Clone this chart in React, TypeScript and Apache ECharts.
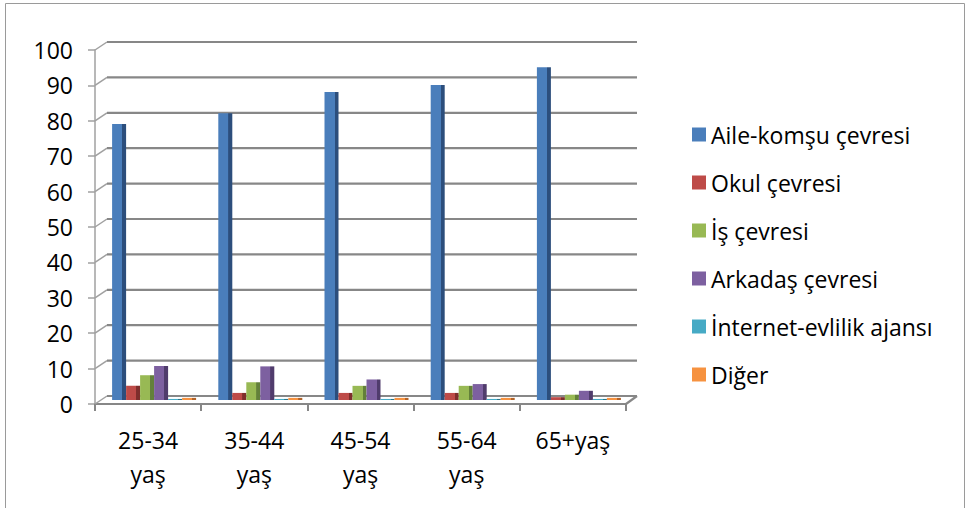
import React, { useEffect, useRef } from "react";
import * as echarts from "echarts";

// Age groups on the category axis
const ageGroups = ["25-34\nyaş", "35-44\nyaş", "45-54\nyaş", "55-64\nyaş", "65+yaş"];

// Share (%) of each way of meeting a spouse, per age group
const seriesNames = [
  "Aile-komşu çevresi",
  "Okul çevresi",
  "İş çevresi",
  "Arkadaş çevresi",
  "İnternet-evlilik ajansı",
  "Diğer",
];
const aileKomsu = [78, 81, 87, 89, 94];
const okul = [4, 2, 2, 2, 0.8];
const is = [7, 5, 4, 4, 1.5];
const arkadas = [9.6, 9.5, 5.8, 4.5, 2.6];
const internet = [0.3, 0.3, 0.3, 0.3, 0.3];
const diger = [0.6, 0.6, 0.6, 0.6, 0.6];

// Value-axis ticks
const yTicks = [0, 10, 20, 30, 40, 50, 60, 70, 80, 90, 100];

const baseColors = ["#4A7EBB", "#BE4B48", "#98B954", "#7D60A0", "#46AAC5", "#F69240"];
const sideColors = ["#2C4E7C", "#7E2E2C", "#63803A", "#503C6C", "#2B7488", "#B2632A"];

// depth offset of the back wall (pseudo 3D)
const DEPTH_X = 12;
const DEPTH_Y = 8;
const GRID_COLOR = "#878787";
const FONT = "'Open Sans', sans-serif";

export default function App() {
  const ref = useRef<HTMLDivElement>(null);

  useEffect(() => {
    if (!ref.current) return;
    const chart = echarts.init(ref.current, null, { renderer: "svg" });

    const values = [aileKomsu, okul, is, arkadas, internet, diger];

    const barSeries = values.map((data, i) => ({
      type: "bar",
      name: seriesNames[i],
      xAxisIndex: 1,
      yAxisIndex: 1,
      data,
      barWidth: 14,
      barGap: "0%",
      z: 3,
      itemStyle: {
        color: new echarts.graphic.LinearGradient(0, 0, 1, 0, [
          { offset: 0, color: baseColors[i] },
          { offset: 0.72, color: baseColors[i] },
          { offset: 0.73, color: sideColors[i] },
          { offset: 1, color: sideColors[i] },
        ]),
      },
    }));

    const option = {
      animation: false,
      backgroundColor: "#ffffff",
      textStyle: { fontFamily: FONT },
      graphic: [
        {
          type: "rect",
          shape: { x: 5.5, y: 3.5, width: 959, height: 510 },
          style: { fill: "none", stroke: "#9A9A9A", lineWidth: 1 },
          silent: true,
        },
      ],
      legend: {
        orient: "vertical",
        left: 692,
        top: 123,
        itemWidth: 14,
        itemHeight: 14,
        itemGap: 25,
        padding: 0,
        icon: "rect",
        textStyle: { fontSize: 23, color: "#000", fontFamily: FONT },
        data: seriesNames.map((name, i) => ({
          name,
          itemStyle: { color: baseColors[i] },
        })),
      },
      grid: [
        // front plane: axes
        { left: 95, top: 50, width: 531, height: 354 },
        // mid plane: columns
        { left: 101, top: 46, width: 531, height: 354 },
      ],
      xAxis: [
        {
          type: "category",
          gridIndex: 0,
          data: ageGroups,
          axisLine: { show: true, lineStyle: { color: GRID_COLOR, width: 2 } },
          axisTick: { show: true, length: 7, lineStyle: { color: GRID_COLOR, width: 2 } },
          axisLabel: {
            fontSize: 23,
            lineHeight: 34,
            margin: 19,
            color: "#000",
            fontFamily: FONT,
          },
        },
        {
          type: "category",
          gridIndex: 1,
          data: ageGroups,
          show: false,
        },
      ],
      yAxis: [
        {
          type: "value",
          gridIndex: 0,
          min: 0,
          max: 100,
          interval: 10,
          axisLine: { show: true, lineStyle: { color: "#A0A0A0", width: 1.5 } },
          axisTick: { show: true, length: 7, lineStyle: { color: "#A0A0A0", width: 1.5 } },
          splitLine: { show: false },
          axisLabel: { fontSize: 23, margin: 22, color: "#000", fontFamily: FONT },
        },
        {
          type: "value",
          gridIndex: 1,
          min: 0,
          max: 100,
          interval: 10,
          show: false,
          splitLine: { show: false },
        },
      ],
      series: [
        {
          // back wall gridlines, their diagonal links to the axis, and the floor edge
          type: "custom",
          xAxisIndex: 0,
          yAxisIndex: 0,
          z: 1,
          silent: true,
          clip: false,
          encode: { x: 0, y: 1 },
          data: yTicks.map((v) => [0, v]),
          renderItem: (params: any, api: any) => {
            const cs = params.coordSys;
            const v = api.value(1);
            const y = api.coord([0, v])[1];
            const x0 = cs.x;
            const x1 = cs.x + cs.width;
            const style = { stroke: GRID_COLOR, lineWidth: 2.2 };
            const children: any[] = [
              {
                type: "line",
                shape: { x1: x0, y1: y, x2: x0 + DEPTH_X, y2: y - DEPTH_Y },
                style: { stroke: "#A0A0A0", lineWidth: 1.5 },
              },
              {
                type: "line",
                shape: { x1: x0 + DEPTH_X, y1: y - DEPTH_Y, x2: x1 + DEPTH_X - 1, y2: y - DEPTH_Y },
                style,
              },
            ];
            if (v === 0) {
              children.push({
                type: "line",
                shape: { x1: x1, y1: y, x2: x1 + DEPTH_X - 1, y2: y - DEPTH_Y },
                style,
              });
            }
            return { type: "group", children };
          },
        },
        ...barSeries,
      ],
    };

    chart.setOption(option as any);
    return () => chart.dispose();
  }, []);

  return (
    <div
      ref={ref}
      style={{ position: "fixed", left: 0, top: 0, width: 967, height: 508 }}
    />
  );
}
